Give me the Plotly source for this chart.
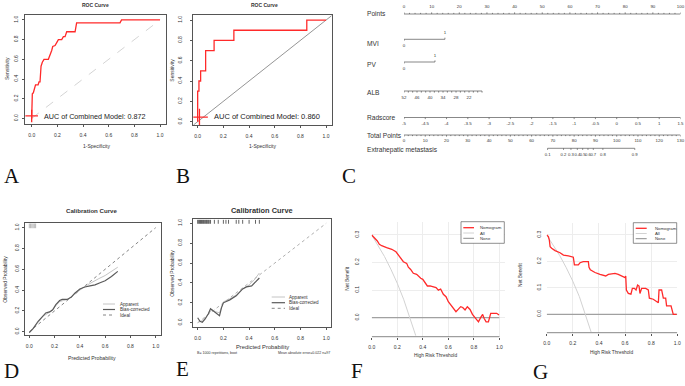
import plotly.graph_objects as go

W, H = 685, 386

# ---------------- DATA ----------------
# A: ROC (training)
rocA_fpr = [0, 0, 0.005, 0.013, 0.02, 0.03, 0.05, 0.057, 0.065, 0.07, 0.073, 0.083, 0.096, 0.13, 0.143,
            0.156, 0.164, 0.182, 0.195, 0.208, 0.234, 0.247, 0.26, 0.273, 0.338, 0.35, 0.688, 0.70, 1.0]
rocA_tpr = [0, 0.1, 0.25, 0.26, 0.3, 0.34, 0.34, 0.37, 0.37, 0.46, 0.53, 0.57, 0.6, 0.6, 0.64,
            0.69, 0.73, 0.74, 0.77, 0.8, 0.8, 0.83, 0.83, 0.88, 0.88, 0.97, 0.97, 1.0, 1.0]
aucA = 0.872
# B: ROC (validation)
rocB_fpr = [0, 0, 0.01, 0.01, 0.023, 0.023, 0.062, 0.062, 0.128, 0.128, 0.282, 0.282, 0.85, 0.85, 1.0]
rocB_tpr = [0, 0.3, 0.3, 0.4, 0.4, 0.5, 0.5, 0.7, 0.7, 0.8, 0.8, 0.9, 0.9, 1.0, 1.0]
aucB = 0.860

# C: nomogram
points_ticks = [0, 10, 20, 30, 40, 50, 60, 70, 80, 90, 100]
mvi_points = 14.8          # points for MVI = 1
pv_points = 11.2           # points for PV = 1
alb_values = [52, 50, 48, 46, 44, 42, 40, 38, 36, 34, 32, 30, 28, 26, 24, 22, 20, 18, 16]
alb_labels = [52, 46, 40, 34, 28, 22]
alb_points_per_unit = 0.784
rad_values = [-5, -4.5, -4, -3.5, -3, -2.5, -2, -1.5, -1, -0.5, 0, 0.5, 1, 1.5]
rad_points_per_unit = 100 / 6.5
total_labels = [0, 10, 20, 30, 40, 50, 60, 70, 80, 90, 100, 110, 120, 130]
em_probs = [0.1, 0.2, 0.3, 0.4, 0.5, 0.6, 0.7, 0.8, 0.9]
em_total_points = [67.5, 75, 78.5, 81.5, 84, 86.5, 89, 93.5, 108.5]

# D: calibration (training)
calD_app_x = [0.0, 0.03, 0.07, 0.11, 0.14, 0.18, 0.21, 0.24, 0.27, 0.30, 0.34, 0.38, 0.42, 0.46, 0.50, 0.55, 0.60, 0.65, 0.70]
calD_app_y = [-0.01, 0.03, 0.09, 0.15, 0.17, 0.20, 0.25, 0.29, 0.30, 0.31, 0.34, 0.38, 0.42, 0.45, 0.48, 0.51, 0.54, 0.58, 0.62]
calD_bc_x = [0.0, 0.03, 0.07, 0.11, 0.13, 0.16, 0.185, 0.21, 0.24, 0.26, 0.30, 0.33, 0.36, 0.40, 0.44, 0.48, 0.52, 0.56, 0.60, 0.65, 0.70]
calD_bc_y = [-0.01, 0.03, 0.10, 0.16, 0.18, 0.19, 0.21, 0.26, 0.30, 0.31, 0.31, 0.33, 0.37, 0.41, 0.43, 0.44, 0.45, 0.47, 0.49, 0.53, 0.58]
calD_rug = [0.0, 0.01, 0.02, 0.03, 0.04, 0.05]

# E: calibration (validation)
calE_app_x = [0.0, 0.03, 0.06, 0.09, 0.11, 0.14, 0.17, 0.2, 0.25, 0.3, 0.35, 0.4, 0.44, 0.48]
calE_app_y = [0.0, 0.02, 0.05, 0.10, 0.13, 0.11, 0.10, 0.21, 0.24, 0.28, 0.34, 0.38, 0.43, 0.50]
calE_bc_x = [0.0, 0.018, 0.036, 0.057, 0.083, 0.1, 0.115, 0.14, 0.17, 0.185, 0.2, 0.25, 0.3, 0.35, 0.38, 0.42, 0.45, 0.48]
calE_bc_y = [0.05, 0.015, 0.005, 0.035, 0.09, 0.14, 0.125, 0.10, 0.07, 0.15, 0.20, 0.23, 0.27, 0.34, 0.36, 0.37, 0.41, 0.45]
calE_rug = [0.0, 0.008, 0.015, 0.022, 0.03, 0.037, 0.045, 0.052, 0.06, 0.068, 0.075, 0.083, 0.09, 0.1,
            0.13, 0.16, 0.2, 0.22, 0.24, 0.3, 0.32, 0.35, 0.4, 0.45, 0.48]
calE_note_left = "B= 1000 repetitions, boot"
calE_note_right = "Mean absolute error=0.022 n=97"

# F: decision curve (training)
dcaF_x = [0, 0.026, 0.044, 0.06, 0.078, 0.117, 0.157, 0.19, 0.21, 0.227, 0.248, 0.274, 0.287, 0.305, 0.326,
          0.352, 0.366, 0.384, 0.40, 0.418, 0.436, 0.457, 0.478, 0.504, 0.522, 0.54, 0.561, 0.582, 0.60, 0.627,
          0.645, 0.66, 0.679, 0.697, 0.713, 0.731, 0.749, 0.77, 0.789, 0.809, 0.836, 0.854, 0.869, 0.88, 0.896,
          0.914, 0.932, 0.953, 0.979, 0.997]
dcaF_nomo = [0.300, 0.288, 0.278, 0.266, 0.261, 0.254, 0.248, 0.239, 0.227, 0.213, 0.203, 0.197, 0.183, 0.175, 0.161,
             0.157, 0.149, 0.143, 0.139, 0.125, 0.115, 0.115, 0.112, 0.109, 0.100, 0.104, 0.085, 0.076, 0.058, 0.042,
             0.034, 0.022, 0.031, 0.040, 0.037, 0.028, 0.040, 0.030, 0.012, 0.000, -0.015, 0.001, 0.012, -0.002, -0.015,
             -0.015, 0.016, 0.016, 0.016, 0.010]
dcaF_all_x = [0, 0.05, 0.1, 0.15, 0.2, 0.25, 0.3, 0.345]
dcaF_all_y = [0.30, 0.263, 0.222, 0.176, 0.125, 0.067, 0.0, -0.065]

# G: decision curve (validation)
dcaG_x = [0, 0.013, 0.02, 0.026, 0.038, 0.064, 0.102, 0.128, 0.166, 0.191, 0.204, 0.212, 0.242, 0.255, 0.28,
          0.319, 0.324, 0.334, 0.37, 0.408, 0.434, 0.452, 0.472, 0.497, 0.523, 0.548, 0.574, 0.6, 0.605, 0.61,
          0.625, 0.645, 0.656, 0.671, 0.684, 0.696, 0.707, 0.714, 0.727, 0.758, 0.778, 0.786, 0.816, 0.842,
          0.855, 0.86, 0.88, 0.893, 0.911, 0.918, 0.952, 0.969, 0.995]
dcaG_nomo = [0.300, 0.294, 0.281, 0.256, 0.250, 0.241, 0.233, 0.224, 0.221, 0.216, 0.216, 0.187, 0.187, 0.195, 0.199,
             0.199, 0.178, 0.168, 0.158, 0.151, 0.149, 0.145, 0.151, 0.153, 0.155, 0.151, 0.145, 0.139, 0.145, 0.092,
             0.079, 0.076, 0.098, 0.098, 0.092, 0.111, 0.107, 0.079, 0.098, 0.098, 0.092, 0.061, 0.057, 0.048,
             0.044, 0.092, 0.092, 0.061, 0.061, 0.032, 0.032, 0.000, 0.000]
dcaG_all_x = [0, 0.05, 0.1, 0.15, 0.2, 0.25, 0.29, 0.34]
dcaG_all_y = [0.30, 0.263, 0.222, 0.176, 0.125, 0.067, 0.005, -0.067]

unit_ticks = [0, 0.2, 0.4, 0.6, 0.8, 1.0]
nb_ticks = [0.0, 0.1, 0.2, 0.3]

# ---------------- STYLE / LAYOUT HELPERS ----------------
FONT = "Liberation Sans, Arial, sans-serif"
SERIF = "Liberation Serif, Times New Roman, serif"
RED = "#ff2a2a"
AX = "#555555"
TXT = "#333333"


def dx(l, r):
    return [l / W, r / W]


def dy(top, bottom):
    return [1 - bottom / H, 1 - top / H]


def fmt1(v):
    return f"{v:.1f}"


def axis(dom, rng, tv, box=True, angle=0, standoff=2, ticks="outside", grid=False):
    return dict(domain=dom, range=rng, showline=box, mirror=box, linecolor=AX, linewidth=0.8,
                ticks=ticks, ticklen=2, tickwidth=0.6, tickcolor=AX,
                tickvals=tv, ticktext=[fmt1(v) for v in tv],
                tickfont=dict(size=5, color=TXT, family=FONT), tickangle=angle,
                ticklabelstandoff=int(round(standoff)), showgrid=grid, gridcolor="#ededed", gridwidth=0.6,
                zeroline=False, fixedrange=True, automargin=False)


fig = go.Figure()
ann = []
shapes = []


def note(text, x, y, size=5, bold=False, angle=0, xanchor="center", family=FONT, color=TXT):
    if bold:
        text = f"<b>{text}</b>"
    ann.append(dict(text=text, x=x / W, y=1 - y / H, xref="paper", yref="paper", showarrow=False,
                    xanchor=xanchor, yanchor="middle", textangle=angle,
                    font=dict(size=size, color=color, family=family)))


def line(x, y, ax, color, width, dash="solid"):
    fig.add_trace(go.Scatter(x=x, y=y, mode="lines", xaxis="x" + ax, yaxis="y" + ax,
                             line=dict(color=color, width=width, dash=dash), hoverinfo="skip",
                             showlegend=False))


# ---------------- A: ROC ----------------
line([0, 1], [0, 1], "", "#c9c9c9", 0.8, "dash")
line(rocA_fpr, rocA_tpr, "", RED, 1.3)
fig.add_trace(go.Scatter(x=[rocA_fpr[0]], y=[0.025], mode="markers", xaxis="x", yaxis="y",
                         marker=dict(symbol="cross-thin", size=9, line=dict(color=RED, width=1.3)),
                         hoverinfo="skip", showlegend=False))
ann.append(dict(text=f"AUC of Combined Model: {aucA:.3f}", x=0.078, y=0.02, xref="x", yref="y",
                showarrow=False, xanchor="left", yanchor="middle",
                font=dict(size=7.2, color="#222", family=FONT)))
note("ROC Curve", 95, 4.5, 5, bold=True)
note("1-Specificity", 96, 146, 5)
note("Sensitivity", 7, 69, 5, angle=-90)

# ---------------- B: ROC ----------------
line([-0.034, 1.044], [-0.034, 1.044], "2", "#7a7a7a", 0.8)
line(rocB_fpr, rocB_tpr, "2", RED, 1.3)
fig.add_trace(go.Scatter(x=[0.014], y=[0.045], mode="markers", xaxis="x2", yaxis="y2",
                         marker=dict(symbol="cross-thin", size=12, line=dict(color=RED, width=1.3)),
                         hoverinfo="skip", showlegend=False))
ann.append(dict(text=f"AUC of Combined Model: {aucB:.3f}", x=0.108, y=0.05, xref="x2", yref="y2",
                showarrow=False, xanchor="left", yanchor="middle",
                font=dict(size=7.5, color="#222", family=FONT)))
note("ROC Curve", 264, 4.5, 5, bold=True)
note("1-Specificity", 262, 146, 5)
note("Sensitivity", 171.7, 70, 5, angle=-90)

# ---------------- C: nomogram ----------------
ROW = dict(points=14, mvi=39.3, pv=62, alb=91, rad=117.5, tot=135, em=148.3)
NOMO_LINE = "#555555"
TL = 1.6  # tick length in px units


def seg_trace(xs, ys, ax_x):
    fig.add_trace(go.Scatter(x=xs, y=ys, mode="lines", xaxis=ax_x, yaxis="y3", cliponaxis=False,
                             line=dict(color=NOMO_LINE, width=0.7), hoverinfo="skip", showlegend=False))


def labels_trace(xs, ys, texts, ax_x, size=4.4):
    fig.add_trace(go.Scatter(x=xs, y=ys, mode="text", text=texts, xaxis=ax_x, yaxis="y3", cliponaxis=False,
                             textfont=dict(size=size, color=TXT, family=FONT), textposition="middle center",
                             hoverinfo="skip", showlegend=False))


def scale(pos, row, tick_dir, ax_x="x3", minor=None):
    xs, ys = [min(pos), max(pos), None], [row, row, None]
    for p in pos:
        xs += [p, p, None]
        ys += [row, row + tick_dir * TL, None]
    for p in (minor or []):
        xs += [p, p, None]
        ys += [row, row + tick_dir * TL * 0.7, None]
    seg_trace(xs, ys, ax_x)


# Points
pts_minor = [v + d for v in points_ticks[:-1] for d in (2, 4, 6, 8)]
scale(points_ticks, ROW["points"], -1, minor=pts_minor)
labels_trace(points_ticks, [ROW["points"] - 7.5] * len(points_ticks), [str(v) for v in points_ticks], "x3")
# MVI
seg_trace([0, mvi_points, None, 0, 0, None, mvi_points, mvi_points],
          [ROW["mvi"], ROW["mvi"], None, ROW["mvi"], ROW["mvi"] + TL, None, ROW["mvi"], ROW["mvi"] - TL], "x3")
labels_trace([0, mvi_points], [ROW["mvi"] + 7, ROW["mvi"] - 6.5], ["0", "1"], "x3")
# PV
seg_trace([0, pv_points, None, 0, 0, None, pv_points, pv_points],
          [ROW["pv"], ROW["pv"], None, ROW["pv"], ROW["pv"] + TL, None, ROW["pv"], ROW["pv"] - TL], "x3")
labels_trace([0, pv_points], [ROW["pv"] + 7, ROW["pv"] - 6.5], ["0", "1"], "x3")
# ALB
alb_pos = [(alb_values[0] - v) * alb_points_per_unit for v in alb_values]
scale(alb_pos, ROW["alb"], 1)
labels_trace([(alb_values[0] - v) * alb_points_per_unit for v in alb_labels],
             [ROW["alb"] + 7] * len(alb_labels), [str(v) for v in alb_labels], "x3")
# Radscore
rad_pos = [(v - rad_values[0]) * rad_points_per_unit for v in rad_values]
scale(rad_pos, ROW["rad"], 1)
labels_trace(rad_pos, [ROW["rad"] + 6] * len(rad_values), [f"{v:g}" for v in rad_values], "x3")
# Total points (own scale 0-130)
tot_minor = [v + d for v in total_labels[:-1] for d in (2, 4, 6, 8)]
scale(total_labels, ROW["tot"], 1, ax_x="x4", minor=tot_minor)
labels_trace(total_labels, [ROW["tot"] + 5.5] * len(total_labels), [str(v) for v in total_labels], "x4")
# Extrahepatic metastasis
scale(em_total_points, ROW["em"], 1, ax_x="x4")
labels_trace(em_total_points, [ROW["em"] + 7] * len(em_probs), [f"{v:g}" for v in em_probs], "x4", size=4.2)

NL = 365
note("Points", NL, 13.3, 6.6, xanchor="left")
note("MVI", NL, 43.3, 6.6, xanchor="left")
note("PV", NL, 65, 6.6, xanchor="left")
note("ALB", NL, 93, 6.6, xanchor="left")
note("Radscore", NL, 117.5, 6.6, xanchor="left")
note("Total Points", NL, 136, 6.6, xanchor="left")
note("Extrahepatic metastasis", NL, 150, 6.6, xanchor="left")

# ---------------- D: calibration ----------------
line([0, 1], [0, 1], "5", "#666666", 0.8, "dot")
line(calD_app_x, calD_app_y, "5", "#c4c4c4", 1.0)
line(calD_bc_x, calD_bc_y, "5", "#5a5a5a", 1.2)
rx, ry = [], []
for v in calD_rug:
    rx += [v, v, None]
    ry += [0.995, 1.04, None]
line(rx, ry, "5", "#8a8a8a", 0.6)
note("Calibration Curve", 91.7, 210.7, 6.1, bold=True)
note("Predicted Probability", 92, 357.7, 5.2)
note("Observed Probability", 5, 279.7, 5, angle=-90)


def manual_legend(x0, x1, xt, ys, items, size=4.6):
    for y, (label, color, width, dash) in zip(ys, items):
        shapes.append(dict(type="line", xref="paper", yref="paper", x0=x0 / W, x1=x1 / W,
                           y0=1 - y / H, y1=1 - y / H, line=dict(color=color, width=width, dash=dash)))
        note(label, xt, y, size, xanchor="left")


cal_items = [("Apparent", "#c4c4c4", 1.0, "solid"), ("Bias-corrected", "#5a5a5a", 1.2, "solid"),
             ("Ideal", "#666666", 0.8, "dot")]
manual_legend(103, 115, 117.5, [304, 309.5, 315], cal_items)

# ---------------- E: calibration ----------------
line([0, 1], [0, 1], "6", "#9a9a9a", 0.8, "dot")
line(calE_app_x, calE_app_y, "6", "#c4c4c4", 1.0)
line(calE_bc_x, calE_bc_y, "6", "#5a5a5a", 1.2)
rx, ry = [], []
for v in calE_rug:
    rx += [v, v, None]
    ry += [0.995, 1.035, None]
line(rx, ry, "6", "#222222", 0.7)
note("Calibration Curve", 261.7, 210.7, 7.4, bold=True)
note("Predicted Probability", 262, 346.7, 5.8)
note("Observed Probability", 171.7, 273, 5, angle=-90)
note(calE_note_left, 195, 353.3, 3.6, xanchor="left")
note(calE_note_right, 332, 353.3, 3.6, xanchor="right")
manual_legend(271.7, 285, 286.7, [297, 302.7, 308.3], cal_items)

# ---------------- F: DCA ----------------
line([0, 1], [0, 0], "7", "#8c8c8c", 1.0)
line(dcaF_all_x, dcaF_all_y, "7", "#d2d2d2", 1.0)
line(dcaF_x, dcaF_nomo, "7", RED, 1.3)
note("High Risk Threshold", 435.7, 355.7, 4.8)
note("Net Benefit", 346.7, 279, 4.8, angle=-90)
dca_items = [("Nomogram", RED, 1.3, "solid"), ("All", "#d2d2d2", 1.0, "solid"), ("None", "#8c8c8c", 1.0, "solid")]
shapes.append(dict(type="rect", xref="paper", yref="paper", x0=461 / W, x1=504.3 / W,
                   y0=1 - 243.3 / H, y1=1 - 221.7 / H, line=dict(color="#444", width=0.6),
                   fillcolor="white"))
manual_legend(463.3, 474, 477.7, [227.7, 233, 238.3], dca_items, size=4.3)
shapes.append(dict(type="line", xref="x7", yref="y7 domain", x0=0, x1=1, y0=0, y1=0,
                   line=dict(color=AX, width=0.7)))

# ---------------- G: DCA ----------------
line([0, 1], [0, 0], "8", "#8c8c8c", 1.0)
line(dcaG_all_x, dcaG_all_y, "8", "#d2d2d2", 1.0)
line(dcaG_x, dcaG_nomo, "8", RED, 1.3)
note("High Risk Threshold", 611.7, 352.7, 4.8)
note("Net Benefit", 520, 275, 4.8, angle=-90)
shapes.append(dict(type="rect", xref="paper", yref="paper", x0=633.3 / W, x1=676.7 / W,
                   y0=1 - 243.3 / H, y1=1 - 222.7 / H, line=dict(color="#444", width=0.6),
                   fillcolor="white"))
manual_legend(635.7, 646.7, 652.7, [228.3, 233.5, 238.7], dca_items, size=4.3)
shapes.append(dict(type="line", xref="x8", yref="y8 domain", x0=0, x1=1, y0=0, y1=0,
                   line=dict(color=AX, width=0.7)))

# ---------------- panel letters ----------------
for letter, x, y in [("A", 12.5, 176), ("B", 183, 176), ("C", 349, 176),
                     ("D", 11.5, 370.5), ("E", 183, 369), ("F", 357, 371), ("G", 540, 372)]:
    note(letter, x, y, 21, family=SERIF, color="#111111")

# ---------------- axes ----------------
lay = dict(
    width=W, height=H, margin=dict(l=0, r=0, t=0, b=0, autoexpand=False), paper_bgcolor="white",
    plot_bgcolor="rgba(0,0,0,0)", showlegend=False,
    xaxis=axis(dx(25, 165.7), [-0.052, 1.044], unit_ticks, standoff=4),
    yaxis=axis(dy(15, 124), [-0.057, 1.05], unit_ticks, angle=-90, standoff=2),
    xaxis2=axis(dx(193.3, 331.7), [-0.034, 1.044], unit_ticks, standoff=4),
    yaxis2=axis(dy(15, 125), [-0.033, 1.05], unit_ticks, angle=-90, standoff=6),
    xaxis3=dict(domain=dx(404, 680.5), range=[0, 100], visible=False, fixedrange=True),
    xaxis4=dict(domain=dx(404, 680.5), range=[0, 130], visible=False, overlaying="x3", fixedrange=True),
    yaxis3=dict(domain=dy(0, 165), range=[165, 0], visible=False, fixedrange=True),
    xaxis5=axis(dx(25, 161), [-0.034, 1.042], unit_ticks, standoff=4),
    yaxis5=axis(dy(222.7, 335), [-0.032, 1.048], unit_ticks, angle=-90, standoff=1),
    xaxis6=axis(dx(193.3, 330.7), [-0.034, 1.035], unit_ticks, standoff=4),
    yaxis6=axis(dy(219.3, 326.7), [-0.04, 1.04], unit_ticks, angle=-90, standoff=6),
    xaxis7=axis(dx(371.7, 504.5), [0, 1.04], unit_ticks, box=False, standoff=3, grid=True),
    yaxis7=axis(dy(221.7, 336.7), [-0.0688, 0.348], nb_ticks, box=False, angle=-90, standoff=11,
                ticks="", grid=True),
    xaxis8=axis(dx(546.7, 677.3), [0, 1.0], unit_ticks, box=False, standoff=3, grid=True),
    yaxis8=axis(dy(222.7, 332.7), [-0.0696, 0.3465], nb_ticks, box=False, angle=-90, standoff=4,
                ticks="", grid=True),
    annotations=ann, shapes=shapes,
)
lay["xaxis"]["anchor"] = "y"
lay["yaxis"]["anchor"] = "x"
for i in ["2", "3", "5", "6", "7", "8"]:
    lay["xaxis" + i]["anchor"] = "y" + i
    lay["yaxis" + i]["anchor"] = "x" + i
lay["xaxis4"]["anchor"] = "y3"

fig.update_layout(**lay)
fig.write_html("out.html", config={"displayModeBar": False},
               post_script="document.body.style.margin='0px';document.body.style.overflow='hidden';")
